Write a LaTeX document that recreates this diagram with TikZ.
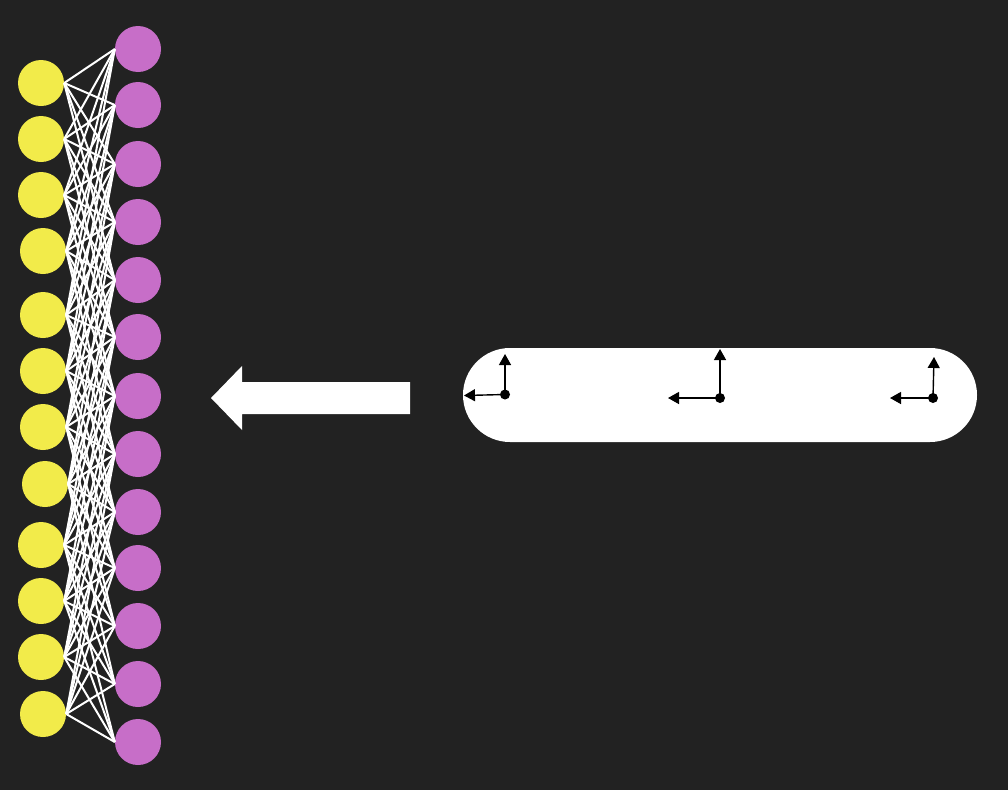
\documentclass[tikz,border=0pt]{standalone}
\usepackage{tikz}
\usetikzlibrary{positioning,shapes,arrows.meta}
\definecolor{BackGray}{HTML}{222222}
\definecolor{NeuronYellow}{HTML}{F2EB4A}
\definecolor{NeuronViolet}{HTML}{C76EC8}
\tikzstyle{InNeuron}=[circle, fill=NeuronYellow, minimum size=46pt, inner sep=0pt]
\tikzstyle{OutNeuron}=[circle, fill=NeuronViolet, minimum size=46pt, inner sep=0pt]
\tikzstyle{Link}=[draw=white, line width=2pt]
\tikzstyle{Origin}=[circle, fill=black, minimum size=10pt, inner sep=0pt]
\tikzstyle{Axis}=[-{Triangle[length=11pt,width=12pt]}, line width=1.4pt]

\begin{document}
\begin{tikzpicture}[x=1pt,y=-1pt]

    \fill [BackGray] (0,0) rectangle (1008,790);
    \useasboundingbox (0,0) rectangle (1008,790);

    % input layer
    \node (InNode1) [InNeuron] at (41,83) {};
    \node (InNode2) [InNeuron] at (41,139) {};
    \node (InNode3) [InNeuron] at (41,195) {};
    \node (InNode4) [InNeuron] at (43,251) {};
    \node (InNode5) [InNeuron] at (43,315) {};
    \node (InNode6) [InNeuron] at (43,371) {};
    \node (InNode7) [InNeuron] at (43,427) {};
    \node (InNode8) [InNeuron] at (45,484) {};
    \node (InNode9) [InNeuron] at (41,545) {};
    \node (InNode10) [InNeuron] at (41,601) {};
    \node (InNode11) [InNeuron] at (41,657) {};
    \node (InNode12) [InNeuron] at (43,714) {};

    % output layer
    \node (OutNode1) [OutNeuron] at (138,49) {};
    \node (OutNode2) [OutNeuron] at (138,105) {};
    \node (OutNode3) [OutNeuron] at (138,164) {};
    \node (OutNode4) [OutNeuron] at (138,222) {};
    \node (OutNode5) [OutNeuron] at (138,280) {};
    \node (OutNode6) [OutNeuron] at (138,337) {};
    \node (OutNode7) [OutNeuron] at (138,396) {};
    \node (OutNode8) [OutNeuron] at (138,454) {};
    \node (OutNode9) [OutNeuron] at (138,512) {};
    \node (OutNode10) [OutNeuron] at (138,568) {};
    \node (OutNode11) [OutNeuron] at (138,626) {};
    \node (OutNode12) [OutNeuron] at (138,684) {};
    \node (OutNode13) [OutNeuron] at (138,742) {};

    \foreach \i in {1,...,12} {
      \foreach \j in {1,...,13} {
        \pgfmathtruncatemacro{\gap}{abs(\i-\j)}
        \ifnum\gap<5
          \draw [Link] (InNode\i.east) -- (OutNode\j.west);
        \fi
      }
    }

    % big arrow
    \fill [white] (211,398) -- (242,366) -- (242,382) -- (410,382) -- (410,414) -- (242,414) -- (242,430) -- cycle;

    % capsule with three frames
    \node (Capsule) [rounded rectangle, fill=white, minimum width=514pt, minimum height=94pt, inner sep=0pt] at (720,395) {};

    \node (FrameA) [Origin] at (505,394.5) {};
    \coordinate (FrameAUp) at (505,354);
    \coordinate (FrameALeft) at (464,395.5);
    \node (FrameB) [Origin] at (720,398) {};
    \coordinate (FrameBUp) at (720,349);
    \coordinate (FrameBLeft) at (668,398);
    \node (FrameC) [Origin] at (933,398) {};
    \coordinate (FrameCUp) at (934,357);
    \coordinate (FrameCLeft) at (890,398);

    \draw [Axis] (FrameA.center) -- (FrameAUp);
    \draw [Axis] (FrameA.center) -- (FrameALeft);
    \draw [Axis] (FrameB.center) -- (FrameBUp);
    \draw [Axis] (FrameB.center) -- (FrameBLeft);
    \draw [Axis] (FrameC.center) -- (FrameCUp);
    \draw [Axis] (FrameC.center) -- (FrameCLeft);

  \end{tikzpicture}
\end{document}
